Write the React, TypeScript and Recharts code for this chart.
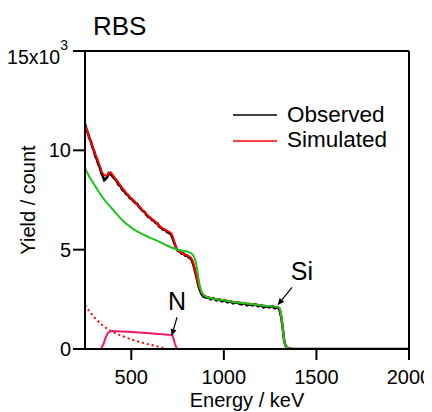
import React from "react";
import { LineChart, Line, XAxis, YAxis, ReferenceLine, Legend, Label } from "recharts";

const FONT = "'Liberation Sans', Arial, sans-serif";

const xTicks = [500, 1000, 1500, 2000];
const yTicks = [0, 5000, 10000, 15000];

const observed = [
  [250, 11350], [258, 11050], [266, 10850], [274, 10600], [282, 10450], [290, 10150], [298, 10000], [306, 9700],
  [314, 9550], [322, 9300], [330, 9150], [338, 8850], [346, 8700], [354, 8500], [362, 8550], [370, 8650],
  [378, 8850], [386, 8800], [394, 8750], [402, 8650], [412, 8550], [422, 8450], [432, 8250], [442, 8200],
  [452, 8000], [462, 7950], [472, 7800], [482, 7750], [492, 7600], [502, 7550], [512, 7450], [522, 7350],
  [532, 7300], [542, 7150], [552, 7050], [562, 6950], [572, 6900], [582, 6750], [592, 6650], [602, 6600],
  [612, 6500], [622, 6450], [632, 6350], [642, 6300], [652, 6150], [662, 6100], [672, 6000], [682, 6000],
  [692, 5900], [702, 5850], [712, 5800], [720, 5650], [728, 5450], [736, 5250], [744, 5050], [752, 4950],
  [762, 4900], [772, 4800], [782, 4800], [792, 4700], [802, 4700], [812, 4600], [822, 4550], [830, 4400],
  [838, 4150], [846, 3850], [854, 3550], [862, 3200], [870, 2980], [880, 2750], [890, 2650], [900, 2600],
  [915, 2600], [930, 2500], [945, 2550], [960, 2450], [975, 2500], [990, 2400], [1005, 2450], [1020, 2350],
  [1035, 2400], [1050, 2300], [1065, 2350], [1080, 2300], [1095, 2250], [1110, 2300], [1125, 2200], [1140, 2250],
  [1155, 2200], [1170, 2250], [1185, 2150], [1200, 2200], [1215, 2100], [1230, 2150], [1245, 2100], [1260, 2150],
  [1275, 2050], [1290, 2100], [1300, 2000], [1310, 1600], [1318, 1050], [1326, 400], [1334, 150], [1345, 50],
  [1360, 0], [1400, 0], [2000, 0],
];

const simulated = [
  [250, 11300], [275, 10600], [300, 9950], [325, 9350], [345, 8850], [362, 8720], [375, 8800], [388, 8900],
  [400, 8750], [425, 8450], [450, 8120], [478, 7800], [500, 7580], [532, 7280], [565, 6950], [600, 6620],
  [630, 6400], [655, 6180], [685, 5980], [709, 5870], [720, 5750], [730, 5450], [741, 5120], [752, 4950],
  [763, 4870], [790, 4750], [817, 4620], [828, 4500], [837, 4250], [845, 3950], [853, 3620], [862, 3250],
  [871, 3030], [885, 2780], [898, 2680], [930, 2560], [961, 2510], [1000, 2460], [1050, 2380], [1100, 2320],
  [1160, 2250], [1220, 2180], [1285, 2120], [1300, 2050], [1308, 1800], [1315, 1300], [1322, 700], [1330, 250],
  [1340, 90], [1366, 15], [1400, 0], [2000, 0],
];

const silicon = [
  [250, 9100], [275, 8650], [300, 8280], [325, 7900], [353, 7530], [380, 7230], [407, 6950], [430, 6700],
  [452, 6480], [475, 6290], [500, 6110], [525, 5960], [550, 5830], [600, 5610], [650, 5400], [700, 5170],
  [750, 5000], [781, 4950], [810, 4880], [826, 4800], [838, 4650], [846, 4450], [854, 4100], [862, 3620],
  [871, 3150], [880, 2870], [892, 2700], [907, 2620], [943, 2530], [1000, 2450], [1051, 2370], [1100, 2310],
  [1159, 2250], [1220, 2180], [1285, 2120], [1300, 2060], [1308, 1800], [1315, 1300], [1322, 700], [1330, 250],
  [1340, 90], [1366, 15], [1400, 0], [2000, 0],
];

const nitrogen = [
  [250, 0], [335, 0], [350, 250], [362, 600], [375, 820], [390, 900], [400, 910], [500, 860], [600, 790],
  [721, 700], [728, 520], [736, 250], [744, 60], [750, 0], [2000, 0],
];

const dotted = [
  [250, 2200], [275, 1880], [300, 1600], [325, 1360], [350, 1150], [375, 990], [400, 860], [450, 660],
  [500, 480], [550, 340], [600, 220], [650, 110], [690, 0],
];

const toRows = (arr: number[][]) => arr.map(([e, v]) => ({ e, v }));

const YTick = (props: any) => {
  const { x, y, payload } = props;
  if (payload.value === 15000) {
    return (
      <text x={x - 3} y={y} dy={13} textAnchor="end" fontSize={19.5} fontFamily={FONT} fill="#000">
        15x10<tspan dy={-14} fontSize={14}>3</tspan>
      </text>
    );
  }
  return (
    <text x={x} y={y} dy={7} textAnchor="end" fontSize={20} fontFamily={FONT} fill="#000">
      {payload.value / 1000}
    </text>
  );
};

const makeArrow = (text: string, tdx: number, tdy: number) => (props: any) => {
  const { x1, y1, x2, y2 } = props;
  const dx = x2 - x1;
  const dy = y2 - y1;
  const len = Math.sqrt(dx * dx + dy * dy) || 1;
  const ux = dx / len;
  const uy = dy / len;
  const hl = 7;
  const hw = 3;
  const bx = x2 - ux * hl;
  const by = y2 - uy * hl;
  const p1 = `${bx - uy * hw},${by + ux * hw}`;
  const p2 = `${bx + uy * hw},${by - ux * hw}`;
  return (
    <g>
      <line x1={x1} y1={y1} x2={bx} y2={by} stroke="#000" strokeWidth={1.2} />
      <polygon points={`${x2},${y2} ${p1} ${p2}`} fill="#000" />
      <text x={x1 + tdx} y={y1 + tdy} textAnchor="middle" fontSize={25} fontFamily={FONT} fill="#000">
        {text}
      </text>
    </g>
  );
};

const LegendContent = () => (
  <svg width={200} height={56} style={{ display: "block" }}>
    <line x1={3} y1={15} x2={47} y2={15} stroke="#000" strokeWidth={1.5} />
    <line x1={3} y1={41} x2={47} y2={41} stroke="#ff0000" strokeWidth={1.5} />
    <text x={57} y={22} fontSize={22.5} fontFamily={FONT} fill="#000">Observed</text>
    <text x={57} y={47} fontSize={22.5} fontFamily={FONT} fill="#000">Simulated</text>
  </svg>
);

export default function App() {
  return (
    <div style={{ position: "relative", width: 424, height: 404 }}>
      <div
        style={{
          position: "absolute",
          left: 85,
          top: 5,
          fontFamily: FONT,
          fontSize: 26,
          lineHeight: "26px",
          color: "#000",
          zIndex: 2,
        }}
      >
        RBS
      </div>
      <LineChart width={424} height={404} margin={{ top: 43, right: 23, bottom: 23, left: 17 }}>
        <XAxis
          type="number"
          dataKey="e"
          domain={[250, 2000]}
          ticks={xTicks}
          allowDataOverflow
          tickSize={11}
          tickMargin={10}
          height={40}
          axisLine={{ stroke: "#000", strokeWidth: 2 }}
          tickLine={{ stroke: "#000", strokeWidth: 2 }}
          tick={{ fill: "#000", fontSize: 20, fontFamily: FONT }}
        >
          <Label
            content={(p: any) => {
              const vb = p.viewBox;
              return (
                <text x={vb.x + vb.width / 2} y={vb.y + 58} textAnchor="middle" fontSize={20} fontFamily={FONT} fill="#000">
                  Energy / keV
                </text>
              );
            }}
          />
        </XAxis>
        <YAxis
          type="number"
          domain={[0, 15000]}
          ticks={yTicks}
          allowDataOverflow
          width={60}
          tickSize={12}
          tickMargin={2}
          axisLine={{ stroke: "#000", strokeWidth: 2 }}
          tickLine={{ stroke: "#000", strokeWidth: 2 }}
          tick={<YTick />}
        >
          <Label
            content={(p: any) => {
              const vb = p.viewBox;
              const cx = 27;
              const cy = vb.y + vb.height / 2;
              return (
                <text x={cx} y={cy} textAnchor="middle" transform={`rotate(-90 ${cx} ${cy})`} fontSize={20} fontFamily={FONT} fill="#000">
                  Yield / count
                </text>
              );
            }}
          />
        </YAxis>
        <ReferenceLine y={15000} stroke="#000" strokeWidth={2} />
        <ReferenceLine x={2000} stroke="#000" strokeWidth={2} />
        <Line data={toRows(observed)} dataKey="v" type="linear" stroke="#000" strokeWidth={2.6} dot={false} activeDot={false} isAnimationActive={false} />
        <Line data={toRows(simulated)} dataKey="v" type="monotone" stroke="#ff0000" strokeWidth={2} dot={false} activeDot={false} isAnimationActive={false} />
        <Line data={toRows(silicon)} dataKey="v" type="monotone" stroke="#1ec31e" strokeWidth={2} dot={false} activeDot={false} isAnimationActive={false} />
        <Line data={toRows(dotted)} dataKey="v" type="monotone" stroke="#ff0000" strokeWidth={2} strokeDasharray="2 3" dot={false} activeDot={false} isAnimationActive={false} />
        <Line data={toRows(nitrogen)} dataKey="v" type="linear" stroke="#f5186a" strokeWidth={2} dot={false} activeDot={false} isAnimationActive={false} />
        <ReferenceLine
          segment={[{ x: 747, y: 1600 }, { x: 718, y: 650 }]}
          ifOverflow="visible"
          shape={makeArrow("N", 0, -7)}
        />
        <ReferenceLine
          segment={[{ x: 1368, y: 3100 }, { x: 1290, y: 2200 }]}
          ifOverflow="visible"
          shape={makeArrow("Si", 10, -7)}
        />
        <Legend
          verticalAlign="middle"
          align="center"
          layout="horizontal"
          wrapperStyle={{ top: 92, left: 222, width: 200, height: 56 }}
          content={<LegendContent />}
        />
      </LineChart>
    </div>
  );
}
